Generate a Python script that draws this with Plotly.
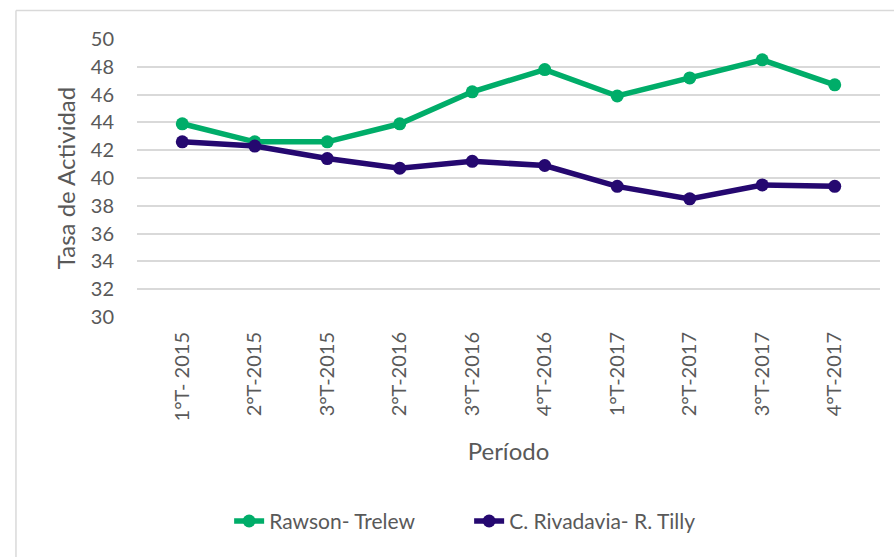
import plotly.graph_objects as go

periodos = ["1°T- 2015", "2°T-2015", "3°T-2015", "2°T-2016", "3°T-2016",
            "4°T-2016", "1°T-2017", "2°T-2017", "3°T-2017", "4°T-2017"]
rawson_trelew = [43.9, 42.6, 42.6, 43.9, 46.2, 47.8, 45.9, 47.2, 48.5, 46.7]
rivadavia_tilly = [42.6, 42.3, 41.4, 40.7, 41.2, 40.9, 39.4, 38.5, 39.5, 39.4]
y_ticks = [30, 32, 34, 36, 38, 40, 42, 44, 46, 48, 50]

GREEN = "#00AD69"
PURPLE = "#250870"
TXT = "#595959"
FONT = "Lato, Open Sans, sans-serif"

fig = go.Figure()
fig.add_trace(go.Scatter(x=periodos, y=rawson_trelew, name="Rawson- Trelew",
                         mode="lines+markers",
                         line=dict(color=GREEN, width=5.5),
                         marker=dict(color=GREEN, size=13)))
fig.add_trace(go.Scatter(x=periodos, y=rivadavia_tilly, name="C. Rivadavia- R. Tilly",
                         mode="lines+markers",
                         line=dict(color=PURPLE, width=5.5),
                         marker=dict(color=PURPLE, size=13)))

fig.update_layout(
    width=894, height=557,
    margin=dict(l=137, r=14, t=39, b=240),
    paper_bgcolor="white", plot_bgcolor="white",
    font=dict(family=FONT, color=TXT, size=20),
    showlegend=True,
    legend=dict(orientation="h", x=0.124, xanchor="left", y=-0.735, yanchor="middle",
                font=dict(size=21, color=TXT, family=FONT),
                entrywidth=195, entrywidthmode="pixels",
                bgcolor="rgba(0,0,0,0)"),
    xaxis=dict(type="category", tickangle=-90, showgrid=False, showline=False,
               zeroline=False, ticks="outside", ticklen=6, tickcolor="rgba(0,0,0,0)",
               tickfont=dict(size=20, color=TXT), automargin=False,
               title=dict(text="Período", font=dict(size=24, color=TXT), standoff=22)),
    yaxis=dict(range=[30, 50], tickvals=y_ticks, showgrid=True, gridcolor="#D9D9D9",
               gridwidth=1.5, zeroline=False, showline=False,
               ticks="outside", ticklen=18, tickcolor="rgba(0,0,0,0)",
               tickfont=dict(size=20, color=TXT), automargin=False,
               title=dict(text="Tasa de Actividad", font=dict(size=24, color=TXT), standoff=8)),
    shapes=[
        dict(type="line", xref="paper", yref="paper", x0=-0.1629, x1=-0.1629,
             y0=1.1027, y1=-1.0, line=dict(color="#D9D9D9", width=1.5)),
        dict(type="line", xref="paper", yref="paper", x0=-0.1629, x1=1.05,
             y0=1.1027, y1=1.1027, line=dict(color="#D9D9D9", width=1.5)),
    ],
)

fig.write_html("out.html", config={"displayModeBar": False},
               post_script="document.body.style.margin='0';")
